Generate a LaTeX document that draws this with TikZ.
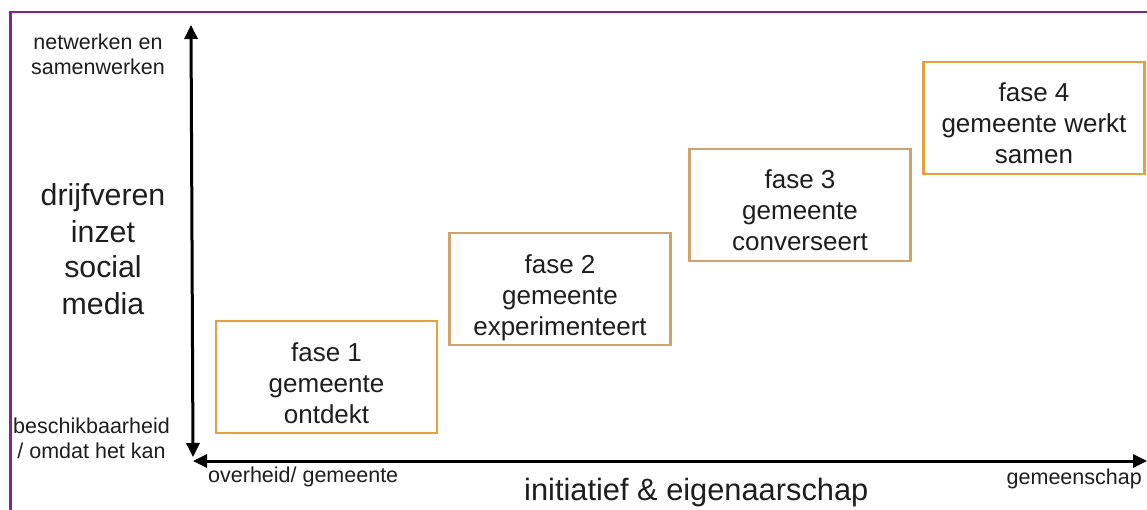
\documentclass[tikz,border=0pt]{standalone}
\usepackage{fontspec}
\setmainfont{Liberation Sans}
\usetikzlibrary{arrows.meta}
\definecolor{framecol}{RGB}{128,38,140}
\definecolor{orangeA}{RGB}{232,160,60}
\definecolor{orangeB}{RGB}{208,162,108}
\definecolor{txt}{RGB}{30,30,30}
\begin{document}
\begin{tikzpicture}[x=1pt,y=-1pt,
  framestyle/.style={draw=framecol, line width=2.4pt},
  phase/.style={draw, line width=2.2pt, minimum width=221pt, minimum height=112pt, inner sep=0pt},
  boxtext/.style={font=\fontsize{26}{31}\selectfont, align=center, inner sep=0pt, text=txt},
  small/.style={font=\fontsize{21.5}{25}\selectfont, align=center, inner sep=0pt, text=txt},
  big/.style={font=\fontsize{30.3}{36}\selectfont, align=center, inner sep=0pt, text=txt},
  axis/.style={line width=3pt, black, {Triangle[length=14pt,width=13pt]}-{Triangle[length=14pt,width=13pt]}}
]
\useasboundingbox (0,0) rectangle (1147,510);
\fill[white] (0,0) rectangle (1147,510);
\draw[framestyle] (1147,11.8) -- (10.5,11.8) -- (10.5,510);

% phase boxes
\node[phase, draw=orangeA] (b1) at (326.5,377) {};
\node[phase, draw=orangeB] (b2) at (560,289) {};
\node[phase, draw=orangeB] (b3) at (800,205) {};
\node[phase, draw=orangeA] (b4) at (1034,118) {};

\node[boxtext, yshift=-8.8pt] (t1) at (b1.center) {\strut fase 1\\\strut gemeente\\\strut ontdekt};
\node[boxtext, yshift=-8.8pt] (t2) at (b2.center) {\strut fase 2\\\strut gemeente\\\strut experimenteert};
\node[boxtext, yshift=-8.8pt] (t3) at (b3.center) {\strut fase 3\\\strut gemeente\\\strut converseert};
\node[boxtext, yshift=-8.8pt] (t4) at (b4.center) {\strut fase 4\\\strut gemeente werkt\\\strut samen};

% axes
\coordinate (vtop) at (191,25);
\coordinate (vbot) at (193,457);
\coordinate (hleft) at (193,461);
\coordinate (hright) at (1147,461);
\draw[axis] (vbot) -- (vtop);
\draw[axis] (hleft) -- (hright);

% labels
\node[small] (ytoplbl) at (98,57.3) {\strut netwerken en\\\strut samenwerken};
\node[big] (ylbl) at (103,252.8) {\strut drijfveren\\\strut inzet\\\strut social\\\strut media};
\node[small] (ybotlbl) at (91.5,441.3) {\strut beschikbaarheid\\\strut / omdat het kan};
\node[small, anchor=base west] (xleftlbl) at (208,482) {overheid/ gemeente};
\node[small, anchor=base west] (xrightlbl) at (1006.5,484.5) {gemeenschap};
\node[big, anchor=base west, font=\fontsize{30.8}{36}\selectfont] (xlbl) at (524,500.5) {initiatief \& eigenaarschap};
\end{tikzpicture}
\end{document}
